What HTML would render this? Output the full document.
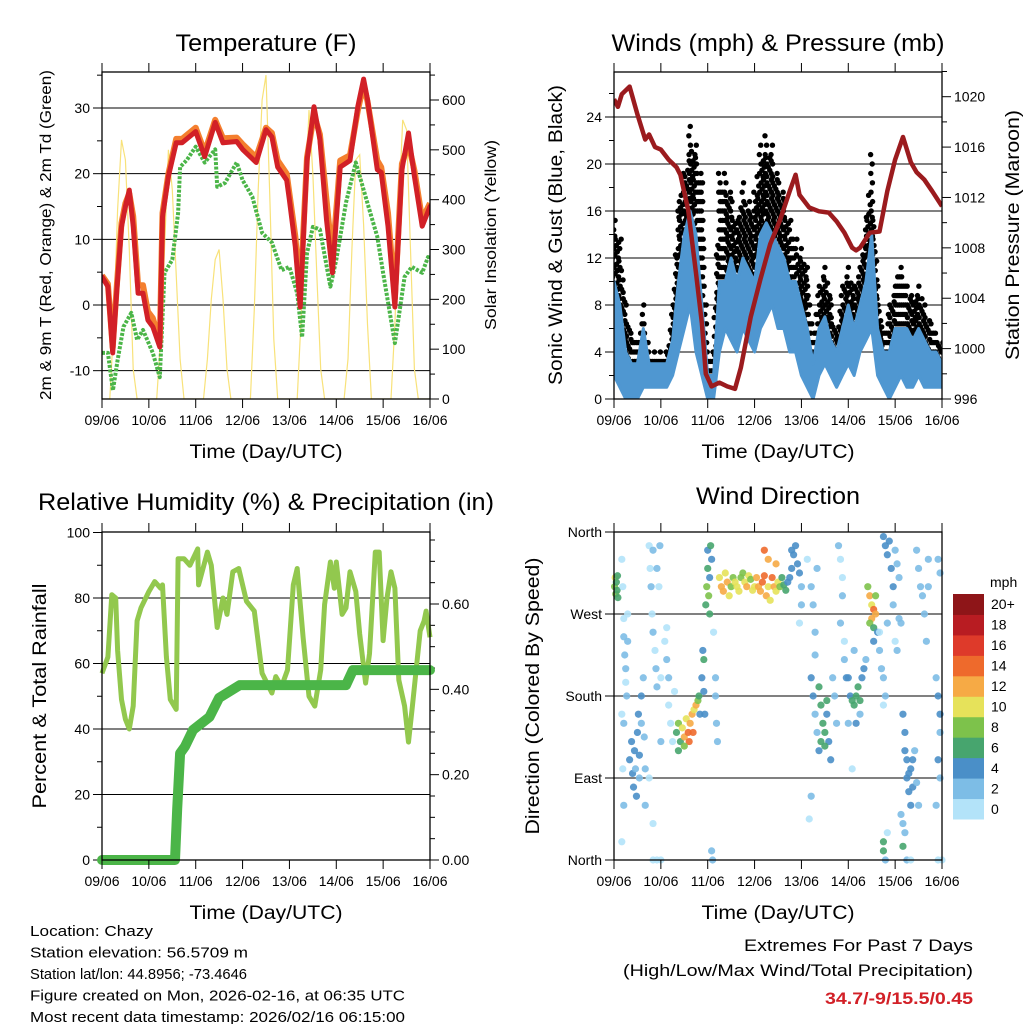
<!DOCTYPE html>
<html><head><meta charset="utf-8"><style>
body{margin:0;background:#fff}
svg{display:block;font-family:"Liberation Sans",Arial,sans-serif}
</style></head><body>
<svg id="c" width="1024" height="1024" viewBox="0 0 1024 1024" xmlns="http://www.w3.org/2000/svg"></svg>
<script>
// ---------- DATA ----------
const dayLabels = ["09/06","10/06","11/06","12/06","13/06","14/06","15/06","16/06"];
// Temperature (hours since 09/06 00Z, degF)
const tempT = [0,3,5.5,7.5,10,12,14,16,18.5,21,23.5,26,29.6,31,34,38,41,48,52.6,58,62,69,72,79,84,87,90,94.6,96,99,101.5,105,108.6,111.6,115,118,122,127,131,134,136,141,143,146.5,150,153.6,157,160,164,168];
const tempRed = [4.3,2.8,-7.3,1.8,11.9,15,17.5,12,1.8,1.8,-2.3,-3.3,-6.4,13.4,19.6,24.7,24.7,26.4,22.6,27.8,24.7,24.9,23.7,21.7,26.7,25.6,21,19,16,8.9,-0.3,22,30.2,25.2,13,4.9,21,22,30.2,34.4,31.3,20.6,20.2,12,-0.3,20.6,26.2,19.6,12,15];
const tempOrange = [4.5,3.2,-6.5,2.5,12.5,15.5,17,13.5,3,3,-1,-2,-5.5,14,20,25.3,25.3,27,23.3,28.2,25.4,25.5,24.5,22.5,27,26.2,22,20,17,10.5,1.5,22.5,29,26,16,7,22,22.8,29.6,33.6,31,22,21,14,1,21.5,24.5,20.5,13,15.5];
const dewT = [0,3,5.6,8,11,15,18,21,26,29.6,32,36,39,40,43.5,48,52.6,58,59,63,69,72,77,82,87,92,96,100,102.5,105,108,111.6,117,120,125,130,135.5,141,144,150,155,158.7,164,167,168];
const dewVal = [-7.3,-7.3,-13,-8.4,-3.3,-1.2,-5.3,-3.8,-7.3,-11,4.9,6.9,14,21,22.1,24.1,21.7,23.7,18,18.6,21.7,19,16.5,11,9.5,5.3,5.8,1.8,-4.9,7.9,11.9,11.5,2.8,6.9,15.6,21.7,16,10.4,4.9,-5.8,4.3,5.8,4.9,7.3,7];
// Solar insolation every 2 hours (W/m2)
const solar = [0,0,0,150,380,520,480,300,60,0,0,0,0,0,0,120,300,500,420,250,80,0,0,0,0,0,0,80,200,280,300,200,60,0,0,0,0,0,0,180,420,600,650,400,120,0,0,0,0,0,0,160,400,580,450,250,60,0,0,0,0,0,0,80,300,480,490,350,150,0,0,0,0,0,0,150,380,560,540,300,60,0,0,0,0];
// Winds every 3 hours (mph)
const windLo = [2,1,0,0,0,1,1,1,1,1,2,4,6,8,4,2,0,0,4,6,5,4,6,5,4,6,7,8,6,6,4,4,2,1,0,2,3,2,1,2,3,2,4,5,6,2,1,0,1,2,1,1,2,1,1,1,1];
const windHi = [10,8,4,3,3,6,3,3,3,3,5,10,14,16,14,8,2,2,10,10,12,10,12,11,10,14,15,14,13,12,10,10,8,6,3,6,7,5,4,6,8,6,8,10,14,6,4,4,6,6,6,5,6,5,4,4,3];
const windGust = [16,14,8,6,5,8,4,4,4,4,8,17,20,24,22,20,4,4,20,20,18,16,19,17,18,22,23,22,20,18,16,14,13,12,5,10,12,9,6,10,12,10,12,16,21,10,6,8,10,12,10,9,10,8,7,6,5];
// Pressure (hours, mb)
const presT = [0,2,4,8,12,16,18,21,24,28,32,34,38,42,45,47,50,54,58,62,65,70,75,80,85,90,93,95,100,105,110,114,118,122,124,126,131,136,140,144,148,152,155,159,163,168];
const presVal = [1019.8,1019.2,1020.2,1020.8,1018.6,1016.6,1017.0,1016.0,1015.8,1015.0,1014.4,1013.8,1011.0,1006.0,1002.0,998.0,997.0,997.3,997.0,996.8,998.5,1002.5,1005.5,1008.3,1010.2,1012.5,1013.8,1012.2,1011.2,1010.9,1010.8,1010.1,1009.2,1008.0,1007.8,1008.0,1009.2,1009.3,1012.5,1015.0,1016.8,1014.8,1014.0,1013.4,1012.5,1011.3];
// RH (hours, %)
const rhT = [0,3,5,7,8,10,12,14,16,18,20,24,27,30,31,33,35,38,39,42,45,49,49.5,54,56,59,62,64,67,70,74,78,82,87,89,92,95,98,100,103,106,109,112,114,117,119,120,123,125,127,130,132,135,137,140,142,144,146,148,150,152,155,157,159,163,165,166,168];
const rhVal = [57,62,81,80,64,49,43,40,47,73,77,82,85,83,84,62,49,46,92,92,90,95,84,94,90,71,80,75,88,89,79,76,57,51,56,53,58,84,89,68,50,47,58,78,91,83,91,75,77,88,82,69,54,63,94,94,67,80,88,83,55,47,36,47,70,73,76,68];
// Precipitation accumulation (hours, in)
const prT = [0,37.4,38.5,40,42.5,46.6,55,60,70.6,125,128.5,168];
const prVal = [0,0,0.12,0.25,0.266,0.305,0.335,0.38,0.41,0.41,0.445,0.445];
// Wind direction: [hour, degrees, speed mph]
const dirPts = [[0.3,300,9],[0.6,310,10],[0.9,292,9],[1.2,305,7],[1.6,296,6],[2,288,7],[1.8,312,6],
[4,330,1],[4.5,300,1],[5,265,1],[5,245,2],[5.5,225,2],[6,210,2],[6,195,1],[6.5,180,2],[7,240,2],[7,270,1],[4,160,1],[5,150,2],[4.5,100,1],[5,60,2],[4,20,1],
[8,110,4],[9,130,4],[9.5,95,4],[10,80,4],[10.5,120,4],[11,100,3],[11.5,70,4],[12,140,4],[12.5,160,4],[13,115,4],[13,90,3],[14,150,3],[14,180,4],[15,200,3],[15.5,135,2],[16,60,2],[16,100,2],
[18,345,1],[18.5,320,1],[19,300,2],[19.5,270,1],[20,340,2],[20,250,2],[21,230,1],[21.5,210,2],[22,190,2],[22,320,2],[23,300,1],[23.5,345,2],[24,200,1],[24,130,2],[18,90,1],[20,40,1],[20,0,1],[22,0,1],[24,0,1],
[26,240,1],[27,220,2],[28,200,2],[28,170,1],[29,150,1],[30,130,1],[31,185,1],[27,255,1],
[32,140,6],[33,150,8],[34,130,6],[35,145,10],[36,135,12],[37,155,10],[38,140,14],[38.5,130,14],[39,150,12],[40,160,12],[40.5,140,14],[41,165,10],[42,170,12],[43,175,8],[43.5,180,6],[44,160,4],[33,120,6],[36,125,8],
[45,200,4],[46,185,4],[46,220,6],[45.5,230,4],[46.5,160,4],[47,280,6],[47.5,300,8],[48,320,6],[48.5,290,8],[48,340,4],[49,310,4],[50,330,4],[49,270,6],[49.5,345,6],
[52,180,2],[52.5,150,2],[53,130,2],[51,250,1],[52,200,2],[50,10,2],[50.5,0,2],
[54,310,10],[55,300,12],[56,295,12],[57,315,10],[58,305,12],[59,290,10],[60,300,8],[61,310,8],[62,305,10],[63,300,10],[64,295,10],[65,310,8],[66,315,8],[67,305,10],[68,300,12],[69,312,10],[70,308,8],[71,296,10],[72,300,10],[73,310,12],[74,300,12],[75,295,12],[76,305,14],[77,312,14],[78,290,12],[79,300,10],[80,285,10],[81,310,14],[82,300,12],[83,295,10],[84,305,10],[85,300,8],[86,310,6],[87,302,6],[88,296,6],[89,305,4],[90,310,4],[77,340,14],[79,330,12],[83,325,12],
[91,320,4],[92,335,4],[93,345,4],[94,325,4],[95,315,4],[96,300,2],[96,280,2],[95,260,1],[91,340,4],
[99,330,1],[101,300,2],[102,280,2],[103,250,2],[104,320,2],
[101,200,4],[102,180,4],[103,160,2],[104,140,2],[105,120,4],[105,190,6],[106,170,6],[107,150,6],[108,140,6],[109,160,4],[110,130,4],[111,110,4],[112,200,2],[113,180,2],[114,150,2],[106,130,6],[108,125,6],[109,175,6],[103,225,2],[101,70,2],[100,45,1],
[115,345,2],[116,330,1],[117,310,1],[117,290,2],[116,260,2],[118,220,2],[119,200,4],[118,240,1],
[120,200,4],[121,180,4],[122,175,6],[123,170,6],[124,180,6],[125,190,6],[126,175,6],[127,200,4],[128,210,4],[126,160,2],[129,220,2],[124,150,4],[120,150,2],[123,230,2],[122,100,1],
[130,300,8],[131,290,12],[132,280,10],[133,275,14],[134,270,12],[132,265,12],[131,260,8],[133,255,6],[134,290,8],[135,250,4],[133,240,4],
[136,230,2],[137,210,2],[138,200,2],[139,180,2],[136,250,1],[138,170,1],[140,260,2],[140,30,1],
[138,355,4],[139,345,4],[140,335,4],[141,350,4],[142,320,4],[143,300,4],[144,340,2],[145,325,2],[146,310,2],[143,280,2],[146,265,2],[144,240,1],[145,230,2],[147,260,2],[138,20,6],[138,10,6],[139,0,2],
[148,160,4],[149,140,4],[149,120,4],[150,110,4],[150,90,4],[151,95,4],[151,75,4],[152,100,4],[152,60,4],[153,110,4],[153,80,4],[154,120,2],[155,85,2],[156,60,2],[148,40,2],[148,15,6],[149,30,2],[150,0,2],[152,0,1],[147,50,2],
[155,340,2],[156,320,2],[157,300,2],[158,290,2],[159,270,2],[160,240,2],[161,330,2],[161,300,2],[165,200,2],[166,180,4],[167,160,4],[167,140,2],[166,110,4],[167,90,2],[165,60,2],[166,0,1],[168,0,1],[166,330,2],[167,315,2]];
const speedColors = ["#b3e3f9","#7dbde6","#4a8fc8","#47a56e","#7dc24b","#e6e25a","#f6aa45","#ee6a2c","#de3a2a","#b81c22","#8e1518"];
const speedLabels = ["0","2","4","6","8","10","12","14","16","18","20+"];

// ---------- HELPERS ----------
const NS="http://www.w3.org/2000/svg";
const svg=document.getElementById('c');
function el(tag,attrs,parent){const e=document.createElementNS(NS,tag);for(const k in attrs)e.setAttribute(k,attrs[k]);(parent||svg).appendChild(e);return e;}
function txt(s,x,y,size,anchor,parent,extra){const t=el('text',Object.assign({x:x,y:y,'font-size':size,'text-anchor':anchor||'middle',fill:'#000'},extra||{}),parent);t.textContent=s;return t;}
function panel(x0,x1,y0,y1){return {x0,x1,y0,y1,tx:t=>x0+(t/168)*(x1-x0)};}
function lin(v0,v1,p0,p1){return v=>p0+(v-v0)*(p1-p0)/(v1-v0);}
function frameAndX(P,g){
  for(let i=0;i<8;i++){const x=P.x0+i*(P.x1-P.x0)/7;
    el('line',{x1:x,x2:x,y1:P.y1,y2:P.y1+9,stroke:'#000','stroke-width':1},g);
    el('line',{x1:x,x2:x,y1:P.y0,y2:P.y0-9,stroke:'#000','stroke-width':1},g);
    const t=txt(dayLabels[i],x,P.y1+26,14,'middle',g);
    
    
  }
  const r=el('rect',{x:P.x0,y:P.y0,width:P.x1-P.x0,height:P.y1-P.y0,fill:'none',stroke:'#000','stroke-width':1.3},g);
  
  
  const xt=txt('Time (Day/UTC)',(P.x0+P.x1)/2,P.y1+59,19,'middle',g,{textLength:153,lengthAdjust:'spacingAndGlyphs'});
  
  
}
function yAxis(P,g,scale,major,minor,fmt,side,grid){
  minor.forEach(v=>{const y=scale(v);const x=side==='L'?P.x0:P.x1;el('line',{x1:x,x2:side==='L'?x-5:x+5,y1:y,y2:y,stroke:'#000','stroke-width':1},g);});
  major.forEach((v,i)=>{const y=scale(v);const x=side==='L'?P.x0:P.x1;
    el('line',{x1:x,x2:side==='L'?x-9:x+9,y1:y,y2:y,stroke:'#000','stroke-width':1},g);
    if(grid&&y>P.y0+2&&y<P.y1-2)el('line',{x1:P.x0,x2:P.x1,y1:y,y2:y,stroke:'#000','stroke-width':1},g);
    const t=txt(fmt(v,i),side==='L'?x-12:x+12,y+5,14,side==='L'?'end':'start',g);
    
    
  });
}
function rotTitle(s,x,y,size,len,g,name){const t=txt(s,x,y,size,'middle',g,{transform:`rotate(-90 ${x} ${y})`,textLength:len,lengthAdjust:'spacingAndGlyphs'});return t;}
function title(s,x,y,len,g,name){const t=txt(s,x,y,24,'middle',g,{textLength:len,lengthAdjust:'spacingAndGlyphs'});}
function path(P,ts,vs,sc){return ts.map((t,i)=>(i?'L':'M')+P.tx(t).toFixed(1)+','+sc(vs[i]).toFixed(1)).join('');}
function range(a,b,s){const r=[];for(let v=a;v<=b+1e-9;v+=s)r.push(+v.toFixed(4));return r;}

// ---------- PANEL 1: Temperature ----------
(function(){
 const g=el('g',{});
 const P=panel(102,430,72,399);
 const yT=lin(0,30,305,108);const yS=lin(0,600,399,100);
 const cp=el('clipPath',{id:'cp1'},g);el('rect',{x:P.x0,y:P.y0,width:P.x1-P.x0,height:P.y1-P.y0},cp);
 yAxis(P,g,yT,[30,20,10,0,-10],[35,25,15,5,-5],v=>String(v),'L',true);
 yAxis(P,g,yS,[0,100,200,300,400,500,600],range(50,650,100),v=>String(v),'R',false);
 const pg=el('g',{'clip-path':'url(#cp1)'},g);
 const st=solar.map((v,i)=>i*2);
 const s=el('path',{d:path(P,st,solar,yS),fill:'none',stroke:'#f8e27a','stroke-width':1.2},pg);
 
 const d=el('path',{d:path(P,dewT,dewVal,yT),fill:'none',stroke:'#4bb548','stroke-width':4,'stroke-dasharray':'3 1.5','stroke-linejoin':'round'},pg);
 
 const o=el('path',{d:path(P,tempT,tempOrange,yT),fill:'none',stroke:'#f47f2e','stroke-width':6,'stroke-linejoin':'round'},pg);
 
 const r=el('path',{d:path(P,tempT,tempRed,yT),fill:'none',stroke:'#d22027','stroke-width':5,'stroke-linejoin':'round','stroke-linecap':'round'},pg);
 
 frameAndX(P,g);
 title('Temperature (F)',266,51,181,g,'temperature-title');
 rotTitle('2m & 9m T (Red, Orange) & 2m Td (Green)',51,235,16,330,g,'temperature-y-axis-title');
 rotTitle('Solar Insolation (Yellow)',496,235,16,190,g,'solar-y-axis-title');
})();

// ---------- PANEL 2: Winds & Pressure ----------
(function(){
 const g=el('g',{});
 const P=panel(614,942,72,399);
 const yW=lin(0,24,399,117);const yP=lin(996,1020,399,96.7);
 const cp=el('clipPath',{id:'cp2'},g);el('rect',{x:P.x0,y:P.y0-6,width:P.x1-P.x0,height:P.y1-P.y0+6},cp);
 yAxis(P,g,yW,[0,4,8,12,16,20,24],[2,6,10,14,18,22,26],v=>String(v),'L',true);
 yAxis(P,g,yP,[996,1000,1004,1008,1012,1016,1020],range(998,1022,4),v=>String(v),'R',false);
 const pg=el('g',{'clip-path':'url(#cp2)'},g);
 const wt=windHi.map((v,i)=>i*3);
 // gust dots
 const dg=el('g',{fill:'#000'},pg);
 for(let i=0;i<wt.length;i++){
   const reps=i<wt.length-1?[0,1/3,2/3]:[0];
   reps.forEach(f=>{
     const t=wt[i]+f*3;
     const hi=windHi[i]*(1-f)+(i<wt.length-1?windHi[i+1]*f:0);
     const gu=f?(windGust[i]*(1-f)+windGust[i+1]*f)*0.92:windGust[i];
     for(let v=hi*0.8;v<=gu;v+=0.8){el('circle',{cx:P.tx(t)+((v*13)%3-1.5),cy:yW(v),r:2.7},dg);}
   });
 }
 // wind band
 const up=wt.map((t,i)=>P.tx(t).toFixed(1)+','+yW(windHi[i]).toFixed(1));
 const dn=wt.map((t,i)=>P.tx(t).toFixed(1)+','+yW(windLo[i]).toFixed(1)).reverse();
 const b=el('polygon',{points:up.concat(dn).join(' '),fill:'#4f97d1',stroke:'#4f97d1','stroke-width':3,'stroke-linejoin':'round'},pg);
 
 const p=el('path',{d:path(P,presT,presVal,yP),fill:'none',stroke:'#9b1b1e','stroke-width':4.5,'stroke-linejoin':'round'},pg);
 
 frameAndX(P,g);
 title('Winds (mph) & Pressure (mb)',778,51,333,g,'winds-title');
 rotTitle('Sonic Wind & Gust (Blue, Black)',562,235,19,300,g,'wind-y-axis-title');
 rotTitle('Station Pressure (Maroon)',1019,235,19,250,g,'pressure-y-axis-title');
})();

// ---------- PANEL 3: RH & Precip ----------
(function(){
 const g=el('g',{});
 const P=panel(102,430,532,860);
 const yR=lin(0,100,860,532.5);const yPr=lin(0,0.6,860,604);
 yAxis(P,g,yR,[0,20,40,60,80,100],[10,30,50,70,90],v=>String(v),'L',true);
 yAxis(P,g,yPr,[0,0.2,0.4,0.6],range(0.05,0.75,0.05).filter(v=>Math.abs(v*5-Math.round(v*5))>0.01),v=>v.toFixed(2),'R',false);
 const rh=el('path',{d:path(P,rhT,rhVal,yR),fill:'none',stroke:'#92c84e','stroke-width':5,'stroke-linejoin':'round'},g);
 
 const pr=el('path',{d:path(P,prT,prVal,yPr),fill:'none',stroke:'#4bb548','stroke-width':10,'stroke-linejoin':'round','stroke-linecap':'round'},g);
 
 frameAndX(P,g);
 title('Relative Humidity (%) & Precipitation (in)',266,510,456,g,'humidity-title');
 rotTitle('Percent & Total Rainfall',46,696,19,225,g,'humidity-y-axis-title');
})();

// ---------- PANEL 4: Wind Direction ----------
(function(){
 const g=el('g',{});
 const P=panel(614,942,532,860);
 const yD=lin(0,360,860,532);
 const dn=["North","East","South","West","North"];
 yAxis(P,g,yD,[0,90,180,270,360],[],(v,i)=>dn[i],'L',true);
 const dg=el('g',{'fill-opacity':0.9},g);
 dirPts.forEach(p=>{
   const bin=Math.min(10,Math.floor(p[2]/2));
   el('circle',{cx:P.tx(p[0]),cy:yD(p[1]),r:3.6,fill:speedColors[bin]},dg);
 });
 frameAndX(P,g);
 title('Wind Direction',778,504,164,g,'direction-title');
 rotTitle('Direction (Colored By Speed)',539,696,19,277,g,'direction-y-axis-title');
 const cb=el('g',{});
 const top=594,bot=819,h=(bot-top)/11;
 speedColors.forEach((c,i)=>{
   el('rect',{x:953,y:bot-(i+1)*h,width:31,height:h+0.5,fill:c},cb);
   const t=txt(speedLabels[i],991,bot-(i+0.5)*h+5,14,'start',cb);
   
 });
 const m=txt('mph',990,587,14,'start',cb);
})();

// ---------- FOOTER ----------
(function(){
 const g=el('g',{});
 const lines=[["Location: Chazy",123],["Station elevation: 56.5709 m",218],["Station lat/lon: 44.8956; -73.4646",217],["Figure created on Mon, 2026-02-16, at 06:35 UTC",375],["Most recent data timestamp: 2026/02/16 06:15:00",375]];
 lines.forEach((l,i)=>{const t=txt(l[0],30,936+i*21.5,15,'start',g,{textLength:l[1],lengthAdjust:'spacingAndGlyphs'});});
 const a=txt('Extremes For Past 7 Days',973,951,17,'end',g,{textLength:229,lengthAdjust:'spacingAndGlyphs'});
 const b=txt('(High/Low/Max Wind/Total Precipitation)',973,976,17,'end',g,{textLength:350,lengthAdjust:'spacingAndGlyphs'});
 const c=txt('34.7/-9/15.5/0.45',973,1004,17,'end',g,{fill:'#d22027','font-weight':'bold',textLength:148,lengthAdjust:'spacingAndGlyphs'});
})();
</script>
</body></html>
